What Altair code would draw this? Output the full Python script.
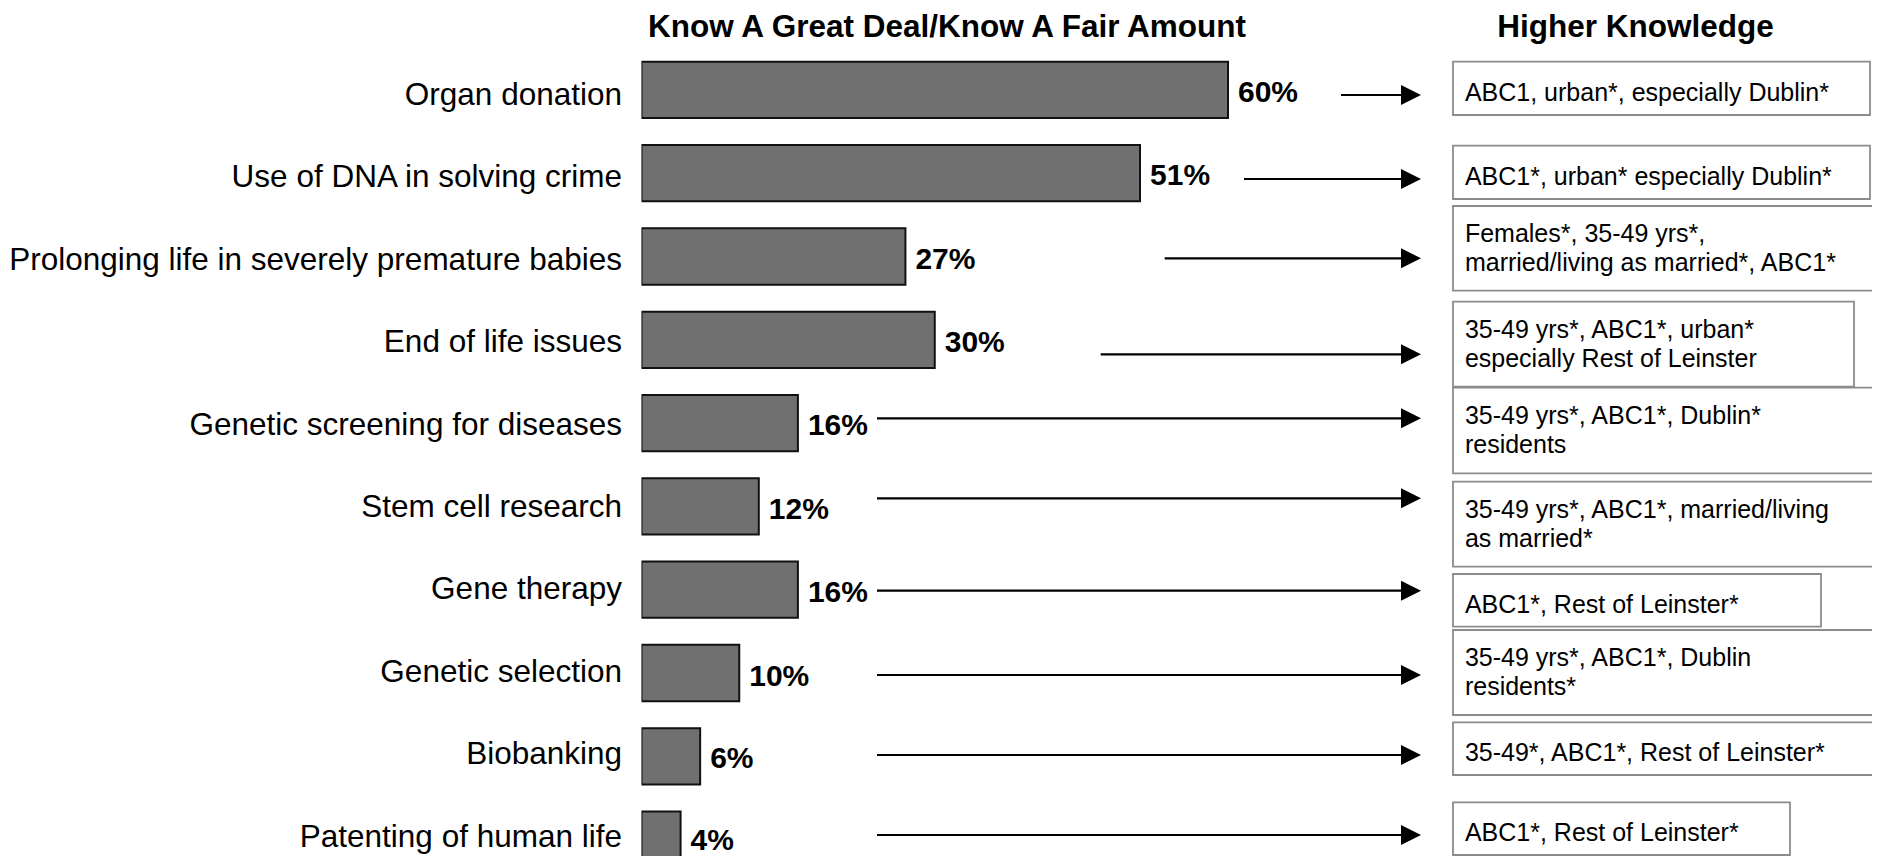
import altair as alt
import pandas as pd

# ---------------- data ----------------
categories = [
    "Organ donation",
    "Use of DNA in solving crime",
    "Prolonging life in severely premature babies",
    "End of life issues",
    "Genetic screening for diseases",
    "Stem cell research",
    "Gene therapy",
    "Genetic selection",
    "Biobanking",
    "Patenting of human life",
]
values = [60, 51, 27, 30, 16, 12, 16, 10, 6, 4]
knowledge = [
    ["ABC1, urban*, especially Dublin*"],
    ["ABC1*, urban* especially Dublin*"],
    ["Females*, 35-49 yrs*,", "married/living as married*, ABC1*"],
    ["35-49 yrs*, ABC1*, urban*", "especially Rest of Leinster"],
    ["35-49 yrs*, ABC1*, Dublin*", "residents"],
    ["35-49 yrs*, ABC1*, married/living", "as married*"],
    ["ABC1*, Rest of Leinster*"],
    ["35-49 yrs*, ABC1*, Dublin", "residents*"],
    ["35-49*, ABC1*, Rest of Leinster*"],
    ["ABC1*, Rest of Leinster*"],
]
title_left = "Know A Great Deal/Know A Fair Amount"
title_right = "Higher Knowledge"

# ---------------- layout (pixels, relative to the plot area) ----------------
STEP = 83.3                      # row pitch in px
PLOT_W, PLOT_H = 1230.5, 807.75
FONT = "Liberation Sans"
BOX_FONT, LINE_H = 25, 29
label_off = [4.3 - 0.9 * i for i in range(10)]          # category label drift (px)
value_off = [1.0, 1.5, 1.5, 1.5, 1.1, 1.5, 1.5, 2.6, 0.5, -0.8]
arrow_start = [699.5, 602.5, 523.2, 459.2, 235.5, 235.5, 235.5, 235.5, 235.5, 235.5]
arrow_off = [5.1, 5.8, 1.8, 14.5, -4.8, -8.1, 1.0, 2.0, -1.3, -4.6]
ARROW_END, HEAD_X = 760.5, 769.5
BOX_LEFT, TEXT_X = 811.5, 823.4
box_right = [1228.5, 1228.5, 1258.5, 1212.5, 1258.5, 1258.5, 1179.5, 1258.5, 1236.5, 1148.5]
box_top_off = [-28.2, -27.5, -50.5, -38.1, -35.4, -24.7, -15.7, -43.0, -34.0, -37.3]
box_bot_off = [25.1, 25.8, 34.2, 46.9, 50.2, 60.3, 37.0, 42.0, 18.7, 15.4]

rows = list(range(len(categories)))
bars = pd.DataFrame({
    "cat": categories,
    "value": values,
    "row": rows,
    "label": [f"{v}%" for v in values],
    "lab_y": [r + o / STEP for r, o in zip(rows, label_off)],
    "val_y": [r + o / STEP for r, o in zip(rows, value_off)],
})


def text_y(r, t, b, k):
    n = len(k)
    adj = 2.9 if n == 1 else -1.2
    return r + ((t + b) / 2 - (n - 1) * LINE_H / 2 + adj) / STEP


ann = pd.DataFrame({
    "row": rows,
    "a_start": arrow_start,
    "a_y": [r + o / STEP for r, o in zip(rows, arrow_off)],
    "b_right": box_right,
    "b_top": [r + o / STEP for r, o in zip(rows, box_top_off)],
    "b_bot": [r + o / STEP for r, o in zip(rows, box_bot_off)],
    "t_y": [text_y(r, t, b, k) for r, t, b, k in zip(rows, box_top_off, box_bot_off, knowledge)],
    "text": ["\n".join(t) for t in knowledge],
})

yscale = alt.Scale(domain=[-0.5, 9.5], range=[0, 10 * STEP], nice=False, zero=False, padding=0)
xscale = alt.Scale(domain=[0, 60], range=[0, 586.5], nice=False, padding=0)

base_b = alt.Chart(bars)
base_a = alt.Chart(ann)

bar_layer = base_b.mark_bar(
    orient="horizontal", size=56.3, fill="#707070", stroke="#111111",
    strokeWidth=2, clip=True
).encode(
    x=alt.X("value:Q", scale=xscale, axis=None),
    y=alt.Y("row:Q", scale=yscale, axis=None),
)

cat_labels = base_b.mark_text(
    align="right", baseline="middle", font=FONT, fontSize=31.5, color="black", dy=1.8
).encode(
    x=alt.value(-19.5),
    y=alt.Y("lab_y:Q", scale=yscale, axis=None),
    text="cat:N",
)

val_labels = base_b.mark_text(
    align="left", baseline="middle", font=FONT, fontSize=30, fontWeight="bold",
    color="black", dx=10, dy=1.75
).encode(
    x=alt.X("value:Q", scale=xscale, axis=None),
    y=alt.Y("val_y:Q", scale=yscale, axis=None),
    text="label:N",
)

arrows = base_a.mark_rule(color="black", strokeWidth=2.2).encode(
    x=alt.X("a_start:Q", scale=None, axis=None),
    x2=alt.value(ARROW_END),
    y=alt.Y("a_y:Q", scale=yscale, axis=None),
)

heads = base_a.mark_point(
    shape="M-1,-1L1,0L-1,1Z", size=400, filled=True, color="black", opacity=1
).encode(
    x=alt.value(HEAD_X),
    y=alt.Y("a_y:Q", scale=yscale, axis=None),
)

boxes = base_a.mark_rect(fill="white", stroke="#8c8c8c", strokeWidth=1.8).encode(
    x=alt.X("b_right:Q", scale=None, axis=None),
    x2=alt.value(BOX_LEFT),
    y=alt.Y("b_top:Q", scale=yscale, axis=None),
    y2=alt.Y2("b_bot:Q"),
)

box_text = base_a.mark_text(
    align="left", baseline="middle", font=FONT, fontSize=BOX_FONT, lineBreak="\n",
    lineHeight=LINE_H, color="black", dy=1.5
).encode(
    x=alt.value(TEXT_X),
    y=alt.Y("t_y:Q", scale=yscale, axis=None),
    text="text:N",
)

titles = alt.Chart(pd.DataFrame({
    "t": [title_left, title_right],
    "px": [305.5, 994.0],
})).mark_text(
    align="center", baseline="alphabetic", font=FONT, fontSize=31.5,
    fontWeight="bold", color="black"
).encode(
    x=alt.X("px:Q", scale=None, axis=None),
    y=alt.value(-11.5),
    text="t:N",
)

chart = alt.layer(
    bar_layer, cat_labels, val_labels, arrows, heads, boxes, box_text, titles
).properties(
    width=PLOT_W,
    height=PLOT_H,
    padding={"left": 633.5, "top": 40.25, "right": 0, "bottom": 0},
    autosize=alt.AutoSizeParams(type="none"),
    background="white",
).configure_view(strokeWidth=0)

chart.save("out.html", embed_options={"renderer": "svg", "actions": False})
